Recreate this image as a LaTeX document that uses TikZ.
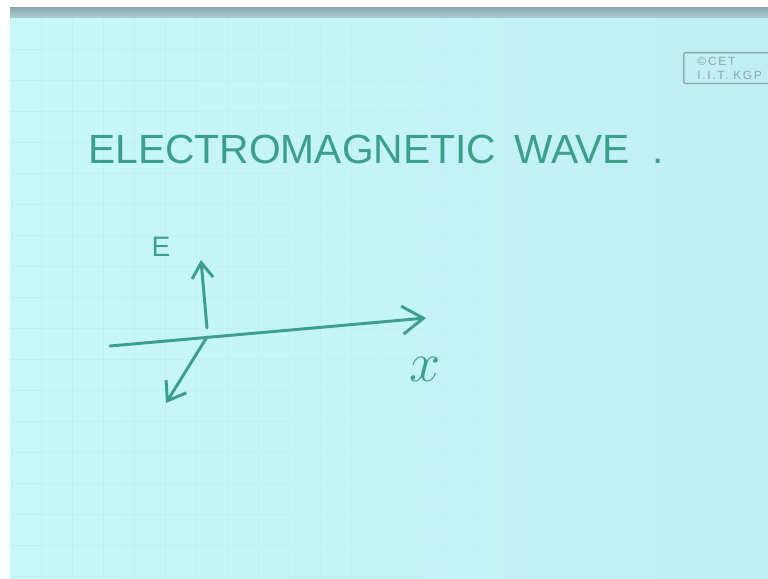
\documentclass[tikz,border=0pt]{standalone}
\usepackage{fontspec}
\setmainfont{Liberation Sans}
\usetikzlibrary{arrows.meta}
\definecolor{paper}{HTML}{C8F8FA}
\definecolor{paperright}{HTML}{C0EEF6}
\definecolor{gridline}{HTML}{B9EAEE}
\definecolor{band}{HTML}{8AAAB0}
\definecolor{ink}{HTML}{3C9E8C}
\definecolor{logo}{HTML}{8CA4AA}

\begin{document}
\begin{tikzpicture}[
    x=0.025cm, y=-0.025cm,
    every node/.style={inner sep=0pt},
    stroke/.style={ink, line width=2.1pt, line cap=round, line join=round},
    title/.style={ink, font=\fontsize{29}{34}\selectfont},
    lab/.style={ink, font=\fontsize{20}{24}\selectfont},
]
\useasboundingbox (0,0) rectangle (768,578);

% paper, top edge and faint grid
\fill[white] (0,0) rectangle (768,578);
\shade[left color=paper, right color=paperright] (10,8) rectangle (768,578);
\shade[top color=band, bottom color=band!50!paper] (10,8) rectangle (768,18);
\foreach \g in {1,...,24}{
    \draw[gridline!55!paper, line width=0.4pt] ({10+\g*31}, 18) -- ({10+\g*31}, 578);
}
\foreach \g in {1,...,18}{
    \draw[gridline!55!paper, line width=0.4pt] (10, {18+\g*31}) -- (768, {18+\g*31});
}

% stamp
\node[draw=logo, line width=0.9pt, rounded corners=1pt, inner xsep=4pt, inner ysep=3pt,
      minimum width=2.3cm, text=logo, align=left, anchor=north west,
      font=\fontsize{8.5}{10}\selectfont\addfontfeatures{LetterSpace=14}]
    (stamp) at (683,52) {\copyright\,CET\\I.I.T.\ KGP};

% heading
\node[title, anchor=base west] (heading) at (88,163)
    {ELECTROMAGNETIC\hspace{0.45em}WAVE\hspace{0.55em}.};

% axes
\coordinate (xleft)  at (110,346);
\coordinate (xright) at (426,318);
\coordinate (ebase)  at (207,328);
\coordinate (etip)   at (201,260);
\coordinate (hbase)  at (207,337);
\coordinate (htip)   at (166,403);

\draw[stroke, -{Straight Barb[length=15pt, width=20pt]}] (xleft) -- (xright);
\draw[stroke, -{Straight Barb[length=11pt, width=15pt]}] (ebase) -- (etip);
\draw[stroke, -{Straight Barb[length=12pt, width=17pt]}] (hbase) -- (htip);

\node[lab] (elabel) at (161,247) {E};
\node[ink, scale=1.6, font=\fontsize{24}{28}\selectfont] (xlabel) at (425,369) {$x$};

\end{tikzpicture}
\end{document}
